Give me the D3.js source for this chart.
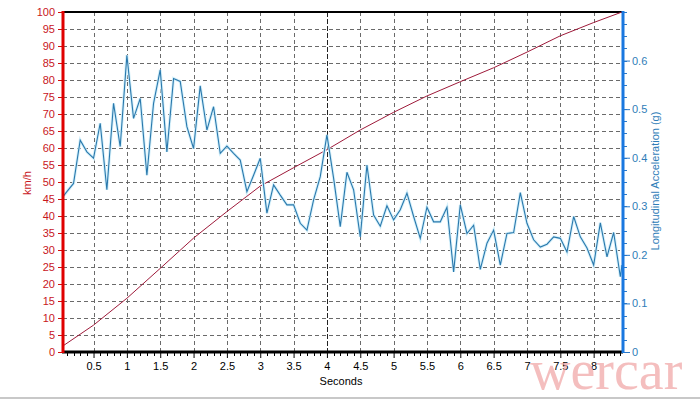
<!DOCTYPE html>
<html><head><meta charset="utf-8">
<script src="https://cdn.jsdelivr.net/npm/d3@7"></script>
<style>body{margin:0;background:#fff}svg{display:block;font-family:"Liberation Sans",Arial,sans-serif}</style>
</head><body><svg id="c" width="700" height="400"></svg>
<script>
const accelTimes = [0.042,0.1,0.2,0.3,0.4,0.5,0.6,0.7,0.8,0.9,1.0,1.1,1.2,1.3,1.4,1.5,1.6,1.7,1.8,1.9,2.0,2.1,2.2,2.3,2.4,2.5,2.6,2.7,2.8,2.9,3.0,3.1,3.2,3.3,3.4,3.5,3.6,3.7,3.8,3.9,4.0,4.1,4.2,4.3,4.4,4.5,4.6,4.7,4.8,4.9,5.0,5.1,5.2,5.3,5.4,5.5,5.6,5.7,5.8,5.9,6.0,6.1,6.2,6.3,6.4,6.5,6.6,6.7,6.8,6.9,7.0,7.1,7.2,7.3,7.4,7.5,7.6,7.7,7.8,7.9,8.0,8.1,8.2,8.3,8.4,8.425];
const accelG = [0.320,0.330,0.347,0.436,0.412,0.399,0.471,0.334,0.512,0.423,0.611,0.481,0.522,0.364,0.512,0.581,0.412,0.563,0.557,0.464,0.419,0.548,0.457,0.505,0.409,0.424,0.409,0.395,0.330,0.364,0.399,0.286,0.344,0.323,0.303,0.303,0.265,0.251,0.313,0.361,0.447,0.358,0.258,0.370,0.334,0.237,0.385,0.282,0.259,0.301,0.272,0.293,0.327,0.279,0.234,0.298,0.268,0.268,0.298,0.165,0.303,0.244,0.261,0.170,0.224,0.251,0.179,0.244,0.246,0.328,0.265,0.231,0.216,0.222,0.237,0.234,0.206,0.279,0.237,0.214,0.179,0.266,0.196,0.246,0.155,0.179];
const speedTimes = [0.042,0.5,1.0,1.5,2.0,2.5,3.0,3.5,4.0,4.5,5.0,5.5,6.0,6.5,7.0,7.5,8.0,8.425];
const speedKmh = [1.8,7.9,15.8,24.6,33.5,41.3,48.8,54.2,59.5,65.3,70.5,75.3,79.5,83.6,88.2,93.0,96.9,100];
const xTicks = [0.5,1,1.5,2,2.5,3,3.5,4,4.5,5,5.5,6,6.5,7,7.5,8];
const leftTicks = d3.range(0,101,5);
const rightTicks = [0,0.1,0.2,0.3,0.4,0.5,0.6];
const labels = {x:"Seconds", left:"km/h", right:"Longitudinal Acceleration (g)", mark:"wercar"};

const svg = d3.select("#c");
const L=63, R=622, T=12, B=352;
const x = d3.scaleLinear().domain([0.042,8.425]).range([L,R]);
const yL = d3.scaleLinear().domain([0,100]).range([B,T]);
const yR = d3.scaleLinear().domain([0,0.7]).range([B,T]);
const fontF = "Liberation Sans, Arial, sans-serif";

// grid
const g = svg.append("g");
g.selectAll("line.h").data(leftTicks.filter(d=>d>0&&d<100)).join("line")
 .attr("x1",L).attr("x2",R).attr("y1",d=>yL(d)+0.5).attr("y2",d=>yL(d)+0.5)
 .attr("stroke","#6a6a6a").attr("stroke-dasharray","4,3");
g.selectAll("line.v").data(xTicks.filter(d=>d!==4)).join("line")
 .attr("y1",T).attr("y2",B).attr("x1",d=>Math.round(x(d))+0.5).attr("x2",d=>Math.round(x(d))+0.5)
 .attr("stroke","#6a6a6a").attr("stroke-dasharray","4,3");
g.append("line").attr("y1",T).attr("y2",B).attr("x1",Math.round(x(4))+0.5).attr("x2",Math.round(x(4))+0.5)
 .attr("stroke","#222").attr("stroke-dasharray","5,2");

// top border
svg.append("line").attr("x1",L).attr("x2",R+1).attr("y1",T).attr("y2",T).attr("stroke","#000").attr("stroke-width",2);

// speed line
svg.append("path").datum(speedTimes.map((t,i)=>[t,speedKmh[i]]))
 .attr("fill","none").attr("stroke","#9e1a3a").attr("stroke-width",1)
 .attr("d",d3.line().x(d=>x(d[0])).y(d=>yL(d[1])));

// accel line
const accLine = d3.line().x(d=>x(d[0])).y(d=>yR(d[1]));
const accData = accelTimes.map((t,i)=>[t,accelG[i]]);
svg.append("path").datum(accData).attr("fill","none").attr("stroke","#d6f1fb").attr("stroke-width",3).attr("d",accLine);
svg.append("path").datum(accData).attr("fill","none").attr("stroke","#2a78ac").attr("stroke-width",1.1).attr("d",accLine);

// bottom axis
const xMinor = d3.range(1,85).map(i=>i/10).filter(v=>Math.abs(v*2-Math.round(v*2))>1e-6);
svg.append("g").selectAll("line").data(xMinor).join("line")
 .attr("x1",d=>Math.round(x(d))+0.5).attr("x2",d=>Math.round(x(d))+0.5).attr("y1",B).attr("y2",B+4).attr("stroke","#000");
const xa = svg.append("g").attr("transform",`translate(0,${B})`)
 .call(d3.axisBottom(x).tickValues(xTicks).tickSize(6).tickPadding(4).tickFormat(d=>String(d)));
xa.select(".domain").remove();
xa.selectAll(".tick line").attr("stroke","#000");
xa.selectAll("text").attr("font-size",11).attr("fill","#000").attr("font-family",fontF);
svg.append("line").attr("x1",L-1).attr("x2",R+1).attr("y1",B).attr("y2",B).attr("stroke","#000").attr("stroke-width",3);
svg.append("text").attr("x",341).attr("y",385).attr("text-anchor","middle").attr("font-size",11).text(labels.x);

// left axis
const la = svg.append("g").attr("transform",`translate(${L},0)`)
 .call(d3.axisLeft(yL).tickValues(leftTicks).tickSize(5).tickPadding(3));
la.select(".domain").remove();
la.selectAll(".tick line").attr("stroke","#d01010");
la.selectAll("text").attr("font-size",11).attr("fill","#c8161d").attr("font-family",fontF);
svg.append("line").attr("x1",L).attr("x2",L).attr("y1",T-1).attr("y2",B+1).attr("stroke","#e00000").attr("stroke-width",3);
svg.append("text").attr("transform",`translate(31,183) rotate(-90)`).attr("text-anchor","middle")
 .attr("font-size",11).attr("fill","#c8161d").text(labels.left);

// right axis
const rMinor = d3.range(0,29).map(i=>i*0.025);
svg.append("g").selectAll("line").data(rMinor).join("line")
 .attr("x1",R).attr("x2",R+5).attr("y1",d=>Math.round(yR(d))+0.5).attr("y2",d=>Math.round(yR(d))+0.5).attr("stroke","#2a78c8");
const ra = svg.append("g").attr("transform",`translate(${R},0)`)
 .call(d3.axisRight(yR).tickValues(rightTicks).tickSize(8).tickPadding(2).tickFormat(d=>String(d)));
ra.select(".domain").remove();
ra.selectAll(".tick line").attr("stroke","#2a78c8");
ra.selectAll("text").attr("font-size",11).attr("fill","#2f7db8").attr("font-family",fontF);
svg.append("line").attr("x1",R+1).attr("x2",R+1).attr("y1",T-1).attr("y2",B+1).attr("stroke","#1a78e0").attr("stroke-width",3);
svg.append("text").attr("transform",`translate(659,181) rotate(-90)`).attr("text-anchor","middle")
 .attr("font-size",11).attr("fill","#2f7db8").text(labels.right);

// watermark & frame
svg.append("text").attr("x",530).attr("y",389).attr("font-family","Liberation Serif, serif").attr("font-size",56)
 .attr("fill","#f0a8a8").attr("fill-opacity",0.75).text(labels.mark);
svg.append("line").attr("x1",0).attr("x2",700).attr("y1",398).attr("y2",398).attr("stroke","#c8c8c8").attr("stroke-width",2);
</script></body></html>
